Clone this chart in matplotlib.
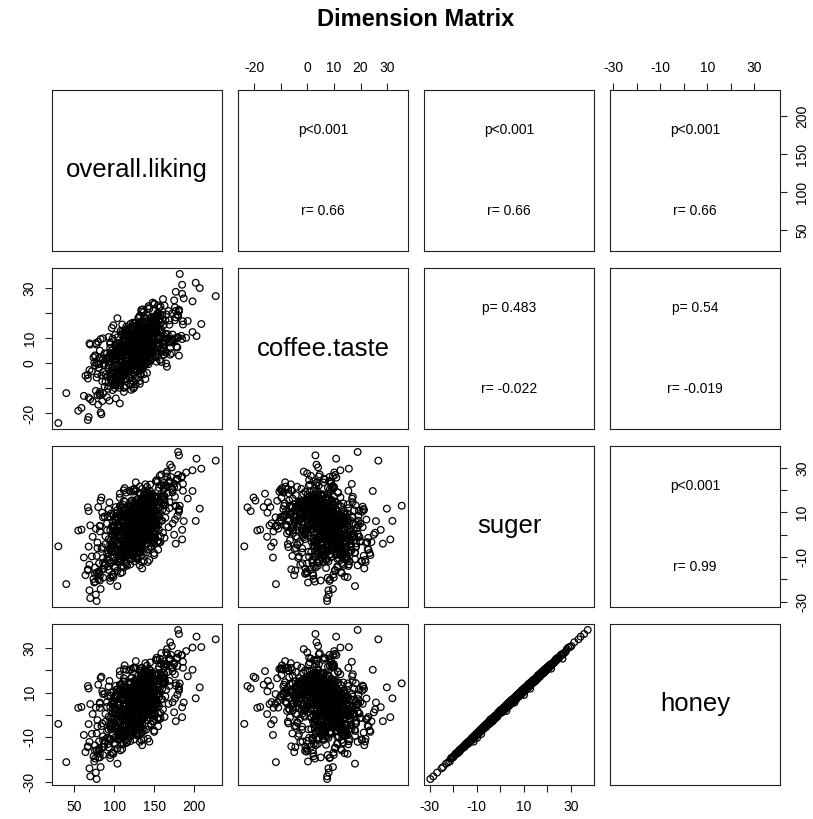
import matplotlib.pyplot as plt
import numpy as np

plt.rcParams['font.family'] = ['Liberation Sans', 'DejaVu Sans']

names = ["overall.liking", "coffee.taste", "suger", "honey"]

overall_liking = [
    136, 116, 133, 123, 92, 136, 162, 98, 149, 92,
    151, 132, 95, 142, 134, 113, 139, 157, 144, 124,
    112, 113, 134, 169, 76, 126, 131, 119, 123, 132,
    133, 111, 86, 187, 169, 68, 142, 127, 75, 192,
    100, 118, 132, 143, 165, 88, 109, 198, 123, 80,
    135, 129, 81, 141, 138, 120, 113, 134, 163, 181,
    112, 132, 112, 84, 83, 135, 150, 120, 138, 111,
    145, 123, 96, 177, 149, 93, 119, 145, 146, 82,
    114, 125, 146, 102, 170, 134, 120, 133, 86, 121,
    118, 123, 158, 59, 120, 136, 77, 95, 142, 178,
    185, 120, 145, 76, 121, 124, 96, 156, 162, 89,
    131, 82, 177, 100, 126, 165, 113, 134, 148, 150,
    94, 105, 101, 173, 98, 148, 78, 67, 123, 114,
    129, 98, 115, 141, 173, 93, 175, 107, 93, 137,
    78, 129, 125, 146, 115, 167, 73, 127, 227, 91,
    144, 93, 136, 146, 40, 131, 108, 177, 104, 171,
    138, 126, 87, 136, 176, 89, 123, 179, 72, 182,
    130, 80, 55, 142, 134, 127, 139, 81, 209, 117,
    115, 98, 173, 142, 62, 134, 176, 80, 115, 162,
    122, 121, 115, 109, 155, 69, 180, 137, 68, 118,
    137, 146, 115, 69, 132, 185, 97, 124, 138, 94,
    110, 136, 136, 166, 96, 159, 85, 120, 107, 131,
    149, 107, 100, 179, 74, 107, 129, 128, 159, 202,
    105, 102, 164, 79, 172, 129, 150, 128, 123, 138,
    104, 110, 137, 156, 84, 149, 127, 104, 124, 83,
    128, 145, 114, 114, 142, 70, 104, 159, 181, 95,
    126, 125, 140, 103, 148, 154, 88, 137, 175, 146,
    78, 139, 147, 95, 77, 146, 149, 112, 203, 104,
    149, 30, 156, 102, 98, 127, 153, 91, 207, 70,
    114, 142, 128, 88, 125, 153, 146, 79, 151, 142,
    131, 112, 135, 130, 148, 97, 143, 145, 133, 106,
    144, 114, 112, 146, 134, 129, 125, 117, 123, 147,
    132, 147, 104, 114, 130, 139, 135, 129, 129, 118,
    136, 125, 157, 112, 86, 139, 134, 151, 128, 162,
    106, 115, 143, 126, 142, 136, 113, 119, 146, 137,
    151, 124, 121, 139, 100, 114, 136, 125, 160, 109,
    119, 136, 134, 125, 136, 110, 123, 138, 140, 135,
    140, 135, 124, 140, 137, 105, 101, 150, 126, 133,
    139, 138, 141, 138, 117, 143, 118, 137, 125, 126,
    134, 124, 141, 147, 101, 109, 151, 117, 128, 164,
    125, 127, 131, 112, 150, 130, 146, 121, 152, 103,
    133, 124, 111, 153, 124, 144, 124, 102, 147, 140,
    136, 128, 141, 119, 132, 126, 137, 125, 142, 110,
    130, 142, 139, 127, 123, 113, 141, 128, 117, 163,
    128, 101, 144, 147, 132, 119, 122, 132, 155, 158,
    135, 122, 120, 147, 105, 151, 106, 159, 129, 107,
    134, 143, 121, 118, 146, 132, 122, 123, 107, 132,
    119, 139, 116, 146, 152, 116, 129, 131, 133, 108,
    112, 134, 147, 110, 143, 150, 155, 131, 113, 144,
    138, 119, 149, 106, 110, 143, 132, 132, 132, 134,
    120, 121, 141, 138, 130, 130, 133, 141, 104, 122,
    148, 124, 160, 85, 136, 125, 126, 153, 130, 164,
    127, 121, 132, 135, 98, 140, 150, 135, 105, 136,
    143, 124, 129, 139, 113, 132, 130, 133, 153, 137,
    121, 123, 120, 140, 138, 125, 117, 138, 141, 138,
    130, 143, 128, 114, 129, 139, 123, 140, 119, 137,
    135, 132, 115, 151, 153, 107, 125, 157, 129, 112,
    128, 121, 134, 116, 140, 169, 115, 135, 131, 117,
    137, 115, 136, 141, 115, 106, 142, 144, 128, 146,
    116, 147, 156, 118, 140, 133, 119, 135, 137, 120,
    132, 115, 138, 141, 154, 103, 112, 122, 186, 107,
    108, 92, 159, 107, 181, 95, 91, 162, 97, 184,
    152, 96, 108, 143, 146, 111, 150, 172, 82, 101,
    136, 136, 170, 67, 141, 181, 95, 143, 124, 144,
    108, 98, 155, 140, 115, 122, 128, 156, 122, 180,
    130, 122, 91, 153, 76, 147, 125, 132, 198, 119,
    107, 166, 120, 126, 114, 117, 163, 82, 158, 136,
    130, 133, 164, 64, 169, 128, 100, 146, 142, 99,
    143, 129, 131, 140, 101, 85, 190, 114, 140, 111,
    156, 108, 82, 144, 141, 155, 129, 141, 126, 133,
    119, 155, 125, 100, 151, 135, 121, 179, 161, 67,
    132, 109, 162, 97, 127, 162, 132, 116, 149, 141,
    135, 133, 134, 161, 98, 97, 140, 132, 143, 123,
    116, 115, 143, 152, 146, 122, 127, 106, 120, 186,
    133, 143, 140, 86, 110, 122, 175, 98, 160, 106,
    130, 138, 138, 131, 109, 127, 168, 102, 140, 166,
    141, 134, 137, 101, 139, 128, 128, 112, 135, 155,
    135, 99, 140, 121, 155, 137, 139, 129, 95, 163,
    135, 133, 130, 127, 102, 107, 154, 185, 95, 135,
    134, 104, 149, 124, 122, 156, 81, 157, 119, 131,
]

coffee_taste = [
    3.2, 11.5, -4.1, 7.8, 0.6, 14.2, 5.9, -1.7, 9.3, 2.4,
    18.6, -8.2, 6.1, 4.7, 12.9, -2.5, 8.4, 1.3, 21.7, 5.2,
    -11.4, 9.8, 3.6, 15.3, -0.9, 6.7, 10.2, -5.8, 4.1, 13.6,
    7.3, -3.4, 1.9, 25.8, 8.9, -13.7, 5.5, 11.1, 0.2, 16.8,
    2.8, 6.4, -7.1, 9.1, 19.4, 3.9, -2.2, 12.4, 7.6, -16.5,
    10.7, 4.3, -0.3, 14.9, 1.1, 8.2, -9.6, 5.7, 22.9, 3.0,
    -4.8, 13.2, 6.9, -20.3, 9.6, 2.1, 17.5, -1.2, 7.1, 11.8,
    0.9, 5.1, -6.3, 28.4, 4.6, 10.4, -3.0, 15.8, 6.2, -12.1,
    8.6, 1.6, 12.1, -8.9, 3.4, 20.5, 7.9, -0.6, 9.9, 4.8,
    -2.9, 16.1, 5.4, -17.8, 11.3, 2.7, 8.0, -5.2, 14.4, 6.6,
    31.2, -1.4, 7.2, 3.1, -10.6, 9.4, 0.4, 13.9, 5.0, -4.4,
    10.1, 2.2, 18.2, -7.7, 6.3, -0.1, 12.6, 4.0, 24.1, 8.1,
    -14.9, 5.8, 1.4, 9.0, -3.7, 15.1, 7.4, -22.6, 3.7, 11.0,
    6.0, -6.9, 13.4, 2.5, 19.9, -1.0, 8.8, 4.4, -9.1, 10.9,
    0.0, 7.7, -4.6, 16.4, 3.3, 11.6, -15.2, 6.5, 26.7, 1.8,
    9.5, -2.0, 4.9, 14.0, -11.9, 7.0, 2.9, 20.8, -5.5, 8.3,
    12.2, 3.8, -0.8, 6.8, 17.1, -7.4, 5.3, 10.0, -3.2, 35.5,
    1.0, 8.5, -18.9, 4.2, 13.0, 0.7, 9.7, -1.9, 15.6, 6.4,
    -6.0, 2.6, 11.4, 7.5, -13.0, 4.5, 22.2, -0.4, 9.2, 3.5,
    14.6, -8.5, 5.6, 1.5, 10.5, -2.7, 18.9, 6.0, -21.4, 8.7,
    3.0, 12.8, -4.0, 7.9, 0.3, 27.6, 5.0, -10.1, 11.2, 2.0,
    -1.5, 9.0, 16.6, 4.3, -6.6, 13.5, 1.2, 8.0, -16.0, 6.8,
    10.6, 5.4, -3.5, 19.2, 2.3, -9.8, 7.3, 14.7, 0.5, 32.0,
    6.2, -0.7, 11.7, -12.7, 4.0, 8.6, 23.4, -2.4, 9.6, 1.7,
    -7.9, 15.4, 3.2, 7.7, -4.9, 12.0, 0.8, 17.9, 5.8, -19.6,
    8.9, 2.4, -1.1, 13.1, 6.5, -14.3, 10.3, 4.6, 21.0, -3.9,
    0.1, 11.9, 7.0, -8.0, 16.9, 3.6, -0.2, 9.1, 25.0, 5.1,
    -5.7, 13.7, 2.0, 8.3, -11.0, 6.1, 18.4, -2.8, 10.8, 4.9,
    14.1, -23.8, 6.7, 1.3, 9.8, -6.2, 12.5, 3.9, 29.9, 7.4,
    -1.6, 4.7, 10.0, -9.3, 15.9, 0.6, 7.8, -4.3, 2.7, 19.0,
    4.5, 8.1, 1.2, 10.6, 6.3, -2.0, 12.5, 3.7, 7.9, 0.4,
    9.3, 5.0, -4.2, 13.8, 2.6, 7.1, 11.0, -0.7, 6.0, 15.2,
    1.8, 10.2, 5.7, -6.5, 8.7, 3.1, 14.0, 6.8, -1.3, 9.6,
    12.0, 2.9, 7.4, 4.1, -3.5, 11.3, 0.9, 17.6, 5.3, 8.4,
    -5.1, 6.6, 9.9, 2.2, 13.1, 4.8, -0.2, 10.8, 7.0, 3.4,
    16.4, 1.0, 5.9, 8.9, -8.3, 12.8, 3.9, 6.2, 19.1, -2.6,
    7.7, 11.7, 0.1, 4.6, 9.0, -4.8, 14.6, 2.4, 8.2, 5.5,
    10.0, -1.9, 6.9, 13.3, 3.0, 7.5, -6.9, 11.9, 1.6, 9.2,
    4.0, 15.7, 8.0, -0.9, 5.1, 12.2, 2.0, 20.4, 6.4, -3.0,
    9.7, 3.6, 11.4, 7.2, -9.9, 5.8, 13.7, 0.7, 8.5, 4.3,
    2.5, 10.4, 6.1, -4.5, 16.9, 7.8, 1.4, 9.4, 12.7, 3.2,
    -1.1, 8.8, 5.2, 14.3, 0.0, 11.1, 6.7, -7.6, 4.9, 10.3,
    13.5, 2.8, 7.6, 9.8, -2.4, 5.0, 18.0, 3.5, 8.6, -5.6,
    6.5, 12.4, 1.9, 10.9, 4.2, -0.4, 7.3, 15.0, 2.1, 9.1,
    5.6, -3.8, 11.8, 8.3, 3.3, 13.0, -1.5, 6.0, 10.1, 22.5,
    0.8, 7.0, 4.4, 12.1, -6.0, 9.5, 2.7, 16.2, 5.4, 7.9,
    11.5, 3.8, -2.9, 8.7, 6.4, 14.9, 1.1, 10.6, -8.8, 4.7,
    7.1, 9.9, 2.3, 5.7, 13.9, -0.6, 8.0, 4.0, 11.2, 6.8,
    -4.0, 12.9, 6.3, 1.5, 9.6, 17.3, 3.6, 7.4, -1.7, 10.5,
    5.0, 8.3, 14.2, -5.3, 2.9, 10.8, 6.6, 0.3, 12.3, 8.9,
    3.9, -0.3, 9.2, 6.0, 15.5, 1.7, 11.6, 4.6, -3.4, 7.6,
    13.2, 5.3, 8.1, -7.2, 10.0, 2.2, 6.9, 18.8, 0.6, 9.8,
    4.3, 11.0, -1.0, 7.7, 3.1, 14.4, 5.9, 9.0, -4.7, 12.6,
    6.2, 1.3, 10.7, 8.5, -2.2, 16.0, 3.4, 7.0, 11.9, 0.0,
    9.4, 4.8, -5.9, 12.0, 6.8, 2.6, 10.2, 5.2, 15.8, -0.8,
    7.9, 13.6, 3.0, 8.8, -3.1, 11.4, 5.6, 1.0, 9.7, 6.1,
    2.0, 10.6, 7.3, 14.8, 4.5, -1.4, 8.4, 12.5, 0.5, 5.8,
    11.1, -4.4, 6.5, 3.7, 9.3, 17.0, 2.4, 7.8, 13.1, -2.0,
    5.3, 8.6, 0.9, 12.2, 6.0, -6.4, 10.4, 4.1, 7.5, 14.1,
    3.3, 9.0, 15.3, 1.2, 7.2, 11.8, -0.1, 6.7, 4.4, 10.9,
    -3.2, 14.5, 8.8, 0.9, 19.8, -7.5, 11.3, 4.2, 16.7, -1.0,
    6.9, -10.2, 12.4, 2.1, 21.3, 7.6, -5.4, 15.2, 1.4, 10.9,
    18.1, 3.5, -8.0, 13.0, 5.9, -2.6, 23.7, 9.4, -12.8, 7.1,
    0.2, 16.0, 6.0, -6.1, 11.9, 20.6, 2.6, -0.4, 14.1, 8.5,
    12.9, -4.0, 9.7, 17.8, -9.0, 4.9, 1.7, 22.1, -1.8, 10.4,
    5.2, 13.9, -13.5, 8.0, 2.8, 18.5, -3.7, 11.6, 24.6, 6.3,
    -7.0, 9.5, 15.6, 3.0, -0.9, 12.3, 7.7, -11.4, 19.3, 4.1,
    10.8, 1.0, 17.1, -5.0, 8.3, 14.6, -2.1, 6.6, 21.9, -8.7,
    3.8, 12.0, -0.5, 16.5, 7.0, -15.1, 10.1, 2.2, 13.3, 9.0,
    17.4, -6.6, 5.0, 11.0, 0.0, 20.0, 8.1, -3.9, 14.8, 2.9,
    8.4, 19.1, -9.5, 4.5, 13.7, -1.3, 10.6, 6.2, 25.5, -4.6,
    1.3, 11.4, 7.4, -7.8, 15.9, 3.3, 18.9, -0.2, 9.8, 12.7,
    -2.3, 6.8, 21.2, 10.0, -10.7, 14.0, 4.8, 16.1, 0.7, 8.9,
    13.6, -3.5, 9.1, 2.4, 18.2, -6.9, 11.8, 5.5, -0.7, 15.4,
    7.8, 22.7, 0.5, -12.0, 12.6, 4.4, 9.9, -2.8, 17.6, 6.5,
    -5.6, 10.2, 14.3, 1.9, 7.3, -8.4, 20.8, 3.9, 12.1, -1.4,
    16.3, 5.7, -4.4, 11.2, 8.7, 0.3, 13.8, -9.8, 6.8, 19.6,
    2.7, 15.1, 9.2, -2.9, 23.0, 6.1, -6.3, 12.9, 4.0, 10.7,
    11.7, -1.6, 17.9, 7.2, -14.0, 3.6, 14.9, 9.6, -4.2, 21.4,
    0.6, 8.0, 13.1, -7.3, 5.3, 16.8, 2.0, 10.3, -0.1, 18.3,
]

suger = [
    8.4, -3.6, 12.7, 1.2, -9.8, 5.5, 17.3, -0.4, 10.1, -14.2,
    3.1, 21.6, -6.7, 9.2, -1.9, 14.8, 0.5, 26.4, -11.3, 6.9,
    15.2, -4.8, 2.6, 11.9, -17.5, 7.4, -2.3, 19.7, 4.4, -8.1,
    0.9, 13.5, -12.6, 6.1, 23.8, -5.3, 9.9, 2.0, -21.4, 16.2,
    -7.2, 4.8, 18.6, -0.8, 10.7, -13.9, 7.7, 28.9, 1.6, 12.4,
    -3.0, 8.8, -16.4, 3.5, 14.3, -9.0, 20.9, 5.2, -1.4, 35.6,
    11.0, -6.1, 2.9, 16.7, -24.3, 7.1, -0.1, 13.2, 4.9, -10.5,
    22.5, 0.3, 9.5, -4.0, 15.6, -15.8, 6.3, -2.7, 18.1, 3.8,
    -8.7, 12.1, -1.0, 7.9, 31.4, -12.0, 4.1, 10.4, -19.2, 1.7,
    6.6, -5.6, 17.9, 2.3, -10.9, 13.8, -26.8, 8.1, 0.0, 24.7,
    -2.1, 11.6, 5.9, -14.7, 19.3, 3.3, -7.6, 9.6, 15.9, -0.7,
    4.0, -18.3, 13.1, 0.6, 8.6, 27.5, -9.4, 6.4, -3.3, 10.9,
    14.5, -11.7, 2.1, 20.1, -4.5, 7.0, -29.7, 12.3, 3.0, -6.4,
    9.1, 1.4, -13.1, 16.0, 5.0, -2.0, 22.9, -8.4, 11.4, 0.2,
    -16.9, 7.6, 13.9, -5.0, 3.7, 18.8, -0.9, 10.0, 33.2, -11.1,
    5.6, -7.9, 15.0, 2.5, -22.1, 8.3, -3.8, 12.6, 0.8, 25.9,
    -1.3, 10.3, -15.2, 6.0, 17.0, -4.2, 3.6, 21.4, -9.7, 13.0,
    7.3, -20.0, 1.9, 11.2, -6.9, 15.5, 4.6, -12.8, 29.6, -0.3,
    9.8, -3.1, 19.0, 2.8, -10.2, 13.6, 6.8, -17.3, 0.1, 23.2,
    -5.9, 14.1, 3.4, -1.6, 8.0, -13.4, 37.1, 5.8, 10.6, -8.8,
    16.4, -0.5, 7.8, -24.9, 12.0, 2.2, -4.7, 20.3, 5.1, -11.5,
    1.5, 9.3, -7.0, 26.1, -2.5, 14.0, -15.6, 4.3, 18.4, -0.2,
    11.8, -9.2, 3.9, 8.5, -19.8, 16.6, 0.4, -5.4, 22.0, 6.2,
    -12.3, 2.4, 13.3, -3.5, 30.2, 7.5, -8.2, 10.2, -1.8, 17.7,
    4.5, -14.0, 9.0, 21.1, -6.3, 1.0, 12.9, -23.0, 6.7, 15.3,
    -2.9, 19.5, 0.7, -10.0, 8.7, 4.2, -16.1, 27.0, 11.5, -4.4,
    14.7, -7.4, 3.2, 10.8, -1.2, 23.6, -12.9, 6.5, 0.0, 18.2,
    -9.5, 5.3, 16.9, -20.7, 2.7, 12.2, -3.9, 9.4, 34.1, -0.6,
    7.2, -5.2, 13.7, 1.1, -17.8, 20.0, 4.7, -8.6, 11.7, -28.4,
    2.6, 15.8, -2.2, 8.2, -11.9, 24.5, 6.0, -6.0, 17.2, 0.4,
    5.2, -2.8, 9.6, 1.9, 12.4, -6.1, 7.0, 14.9, -0.5, 3.8,
    10.8, -4.3, 6.5, 0.2, 16.1, 2.7, -8.9, 8.3, 4.6, -1.6,
    13.2, 6.1, -3.4, 9.1, 1.0, 18.5, -5.7, 4.9, 11.6, 0.6,
    -2.2, 7.8, 15.3, 3.1, -10.4, 5.7, 12.0, -0.9, 8.8, 20.4,
    4.3, -7.0, 10.1, 6.9, -1.8, 13.8, 2.4, -4.6, 9.3, 16.7,
    1.4, 11.3, -3.9, 7.5, 4.0, -12.6, 14.2, 0.1, 6.3, 9.7,
    -5.3, 3.6, 12.8, -0.2, 8.0, 5.5, -9.6, 17.4, 2.0, 10.9,
    7.1, 15.0, -2.6, 4.4, 11.0, -6.8, 1.6, 9.0, 13.4, -0.8,
    10.2, 0.9, 6.0, 19.2, -4.1, 3.3, 8.6, -11.7, 5.0, 12.5,
    -1.2, 8.1, 2.8, 14.1, 6.6, -7.5, 10.5, 4.2, -3.0, 22.1,
    9.4, -5.0, 3.9, 11.8, 0.5, 7.4, 16.0, -2.4, 5.8, -9.0,
    13.6, 2.2, -6.4, 8.9, 4.8, 11.1, -1.0, 6.8, 18.0, 1.3,
    -3.6, 10.0, 5.3, -0.4, 14.6, 3.0, -8.0, 9.7, 7.2, 12.2,
    0.7, 6.2, 13.0, -4.9, 8.4, 2.5, 10.7, -10.8, 4.5, 15.6,
    7.9, -1.5, 3.4, 12.6, 5.9, -6.2, 9.2, 1.8, 17.0, -3.3,
    11.9, 4.1, -0.6, 8.2, 2.9, 14.4, -5.1, 6.4, 10.3, -12.0,
    3.2, 13.1, 7.7, -2.0, 9.9, 0.0, 5.4, -7.3, 12.9, 6.9,
    -4.5, 8.7, 1.1, 15.9, 4.7, 10.4, -1.9, 7.3, 3.5, -9.4,
    6.0, 2.1, 11.5, -3.1, 9.0, 5.1, 19.8, -0.3, 8.1, 4.0,
    12.3, -6.6, 7.6, 3.7, -2.7, 10.6, 1.5, 14.0, -4.0, 6.7,
    -0.9, 9.8, 4.4, 13.3, -8.2, 6.1, 2.6, 11.2, 7.0, -3.8,
    8.5, 0.4, 16.5, -5.5, 5.6, 12.0, -1.3, 3.0, 9.6, 21.0,
    2.9, -3.2, 10.9, 6.5, -9.9, 4.0, 13.9, 0.8, 8.0, -1.7,
    14.8, 5.0, -2.3, 9.5, 1.9, -7.8, 11.4, 4.7, 6.2, 17.9,
    -6.0, 7.4, 12.7, 0.3, 10.0, 3.6, -4.4, 8.9, 2.2, 15.1,
    5.7, -0.1, 9.3, -10.0, 13.5, 6.6, 1.0, 11.8, -2.9, 7.6,
    10.6, 3.9, -7.1, 6.8, 16.3, -1.1, 4.2, 12.8, 8.3, -4.8,
    1.7, 11.0, 5.5, -3.5, 8.6, 14.6, 0.2, 7.1, -6.9, 10.2,
    7.4, -2.1, 12.1, 4.6, -5.8, 9.1, 3.2, 18.7, 0.9, 6.0,
    -1.4, 13.7, 6.3, 2.5, 10.8, -4.2, 8.5, 4.9, 15.4, -8.5,
    14.2, -8.5, 3.3, 19.1, -2.9, 9.7, -14.6, 6.4, 22.8, 0.2,
    -11.0, 7.9, 16.8, -4.7, 11.1, -19.3, 2.0, 13.6, -7.7, 25.6,
    4.6, -12.4, 9.0, -1.2, 17.5, 6.9, -9.1, 20.7, 1.5, -5.9,
    12.8, -0.4, 23.4, -15.5, 5.3, 10.3, -6.0, 15.7, -2.3, 8.1,
    -17.2, 3.9, 11.9, -8.0, 18.9, 0.6, 14.1, -3.7, 7.3, 26.8,
    9.0, -10.6, 5.1, 16.0, -21.0, 2.9, 12.5, -5.0, 19.6, -1.5,
    6.1, 21.9, -13.3, 10.8, 1.2, -7.3, 17.3, 4.0, -0.8, 13.9,
    -3.4, 15.2, 7.6, -18.1, 24.1, -9.8, 3.1, 11.4, -12.2, 8.8,
    18.0, -5.4, 12.2, 0.0, -14.9, 9.9, 27.9, -1.7, 5.7, -9.9,
    2.3, 13.0, -20.5, 8.2, 16.5, -3.0, 6.8, 21.5, -10.1, 11.8,
    -6.8, 4.4, 19.4, -11.8, 9.4, 14.8, -2.6, 25.1, 0.9, -16.0,
    10.1, -8.9, 15.9, 3.6, -4.2, 22.2, -13.7, 7.0, 12.9, -0.3,
    20.6, 1.8, -9.4, 13.3, 5.9, -18.7, 8.5, -2.0, 17.0, 3.0,
    -13.9, 11.6, 6.2, 24.0, -5.6, 15.4, 0.0, -10.5, 9.3, 19.7,
    1.1, -6.5, 14.6, 7.8, -16.8, 4.7, 21.3, -3.2, 11.0, -9.6,
    16.2, 8.4, -2.7, 12.0, -11.4, 23.5, 3.4, -7.9, 6.6, 28.3,
    -4.0, 10.6, 17.8, -14.2, 2.5, 13.2, -8.3, 19.9, 5.2, -1.0,
    8.6, -19.0, 4.0, 15.0, -6.7, 10.0, 22.6, 0.6, -12.7, 14.4,
    -2.4, 18.3, -10.9, 6.3, 12.4, -4.8, 9.6, 26.2, 2.1, -15.1,
    11.3, -7.0, 4.9, 20.4, -1.9, 8.0, -17.4, 14.9, 3.7, -5.2,
]

honey = [
    9.1, -2.4, 11.8, 2.9, -10.3, 6.2, 18.9, 0.7, 9.0, -13.1,
    4.6, 20.8, -5.2, 10.4, -0.6, 15.1, 1.9, 25.3, -12.0, 7.5,
    16.5, -3.9, 1.8, 13.0, -16.2, 8.8, -1.4, 20.2, 5.9, -8.6,
    1.3, 14.9, -11.4, 5.6, 25.0, -4.1, 10.7, 3.5, -20.9, 17.4,
    -6.0, 5.3, 19.9, 0.6, 11.3, -13.0, 9.1, 30.3, 2.2, 13.6,
    -2.2, 9.5, -15.1, 4.8, 14.9, -8.1, 22.3, 6.5, -0.9, 36.4,
    12.3, -5.5, 3.8, 17.2, -23.4, 8.5, 1.0, 14.4, 5.1, -9.7,
    23.6, 1.6, 10.0, -2.8, 16.9, -14.6, 7.4, -1.5, 18.8, 5.0,
    -7.5, 12.6, 0.2, 9.3, 32.7, -11.3, 5.5, 11.1, -18.0, 2.4,
    7.9, -4.7, 18.5, 3.6, -9.8, 15.0, -25.9, 8.8, 1.3, 25.4,
    -1.0, 12.2, 7.3, -13.6, 20.6, 4.0, -6.5, 10.9, 16.4, 0.5,
    5.2, -17.4, 14.3, 1.8, 9.0, 28.1, -8.0, 7.7, -2.9, 12.1,
    15.3, -10.6, 3.4, 21.5, -3.6, 7.8, -28.8, 13.0, 4.2, -5.3,
    10.2, 2.8, -12.5, 17.1, 5.7, -0.8, 23.5, -7.2, 12.8, 1.0,
    -15.8, 8.2, 15.2, -4.2, 4.9, 19.3, 0.4, 11.4, 34.0, -10.4,
    6.9, -6.6, 15.8, 3.1, -21.2, 9.7, -2.6, 13.2, 2.1, 27.0,
    -0.1, 11.0, -14.4, 7.2, 18.3, -3.0, 4.1, 22.0, -8.5, 14.2,
    8.0, -19.1, 3.2, 12.5, -5.7, 16.1, 6.0, -11.9, 30.5, 0.9,
    11.1, -2.0, 19.6, 4.0, -9.0, 14.8, 7.4, -16.5, 1.5, 24.1,
    -4.6, 14.7, 4.8, -0.9, 9.2, -12.1, 38.2, 6.3, 11.9, -7.9,
    17.6, 0.8, 8.3, -24.0, 12.9, 3.5, -3.3, 21.0, 6.4, -10.8,
    2.7, 10.0, -6.2, 27.3, -1.1, 14.6, -14.3, 5.0, 19.7, 1.1,
    12.4, -8.0, 5.3, 9.1, -18.6, 17.9, 1.2, -4.6, 22.8, 7.5,
    -11.2, 3.0, 14.6, -2.3, 31.0, 8.9, -7.0, 10.8, -0.6, 18.5,
    5.8, -13.2, 10.3, 21.7, -5.0, 2.3, 13.5, -21.9, 7.2, 16.6,
    -1.6, 20.1, 2.0, -9.1, 9.9, 4.9, -15.0, 27.8, 12.7, -3.2,
    15.5, -6.1, 4.5, 11.4, 0.1, 24.8, -11.6, 7.0, 1.2, 19.0,
    -8.3, 6.7, 17.5, -19.4, 3.3, 13.4, -2.7, 10.6, 35.2, 0.7,
    8.4, -4.0, 14.3, 2.5, -16.9, 21.2, 5.2, -7.3, 12.4, -27.6,
    3.9, 16.3, -0.8, 9.6, -11.0, 25.7, 7.3, -5.1, 18.0, 1.6,
    6.9, -1.0, 10.2, 3.8, 13.1, -5.3, 8.9, 15.4, 1.6, 4.2,
    11.5, -2.1, 7.0, 2.3, 17.8, 3.4, -7.2, 9.9, 5.1, -0.4,
    14.8, 6.5, -1.6, 10.9, 1.8, 19.0, -4.0, 6.8, 12.1, 2.5,
    -0.5, 9.6, 15.9, 4.9, -9.6, 6.3, 13.9, 0.4, 9.2, 22.0,
    5.0, -5.3, 11.8, 7.4, -0.1, 14.5, 4.2, -3.8, 11.0, 17.2,
    3.2, 12.0, -2.2, 8.1, 5.9, -11.3, 15.0, 1.9, 7.1, 11.5,
    -4.5, 5.4, 13.4, 1.5, 8.7, 7.2, -8.0, 18.1, 3.6, 11.6,
    8.9, 15.8, -1.0, 5.1, 12.7, -5.1, 2.4, 10.8, 14.0, 1.0,
    10.9, 2.7, 7.8, 20.0, -2.4, 4.0, 10.3, -10.9, 6.8, 13.2,
    0.6, 8.9, 4.5, 14.7, 8.3, -6.6, 11.2, 6.0, -1.3, 22.8,
    11.1, -4.1, 5.6, 12.5, 2.2, 8.0, 17.7, -0.7, 6.4, -7.4,
    14.3, 4.0, -4.7, 9.5, 6.5, 11.8, 0.8, 8.5, 18.6, 3.1,
    -1.9, 10.7, 7.0, 1.3, 15.2, 4.8, -7.2, 11.4, 7.8, 13.9,
    2.4, 7.0, 14.7, -3.2, 9.1, 4.2, 11.3, -9.1, 6.3, 16.2,
    9.6, 0.2, 4.1, 14.3, 6.6, -4.5, 10.9, 2.5, 18.7, -1.6,
    12.6, 5.8, 1.1, 8.9, 4.6, 15.1, -3.4, 7.1, 12.0, -10.3,
    4.9, 13.8, 9.4, -0.3, 10.6, 1.7, 6.1, -5.6, 13.6, 8.6,
    -3.8, 10.4, 2.8, 16.6, 6.4, 11.1, -0.2, 8.0, 5.2, -8.7,
    7.7, 2.8, 13.2, -1.4, 9.7, 6.8, 20.5, 1.4, 8.8, 5.7,
    13.0, -4.9, 8.3, 5.4, -2.0, 12.3, 2.2, 15.7, -2.3, 7.4,
    0.8, 10.5, 6.1, 14.0, -6.5, 6.8, 4.3, 11.9, 8.7, -3.1,
    9.2, 2.1, 17.2, -3.8, 6.3, 13.7, -0.6, 4.7, 10.3, 21.7,
    4.6, -2.5, 11.6, 8.2, -8.2, 4.7, 15.6, 1.5, 9.7, -1.0,
    15.5, 6.7, -1.6, 11.2, 2.6, -6.1, 12.1, 6.4, 6.9, 19.6,
    -4.3, 8.1, 14.4, 1.0, 11.7, 4.3, -2.7, 9.6, 3.9, 15.8,
    6.4, 1.6, 10.0, -8.3, 14.2, 8.3, 1.7, 13.5, -2.2, 9.3,
    12.3, 4.6, -5.4, 7.5, 18.0, -0.4, 5.9, 13.5, 10.0, -4.1,
    3.4, 11.7, 7.2, -2.8, 10.3, 15.3, 1.9, 7.8, -5.2, 10.9,
    8.1, -0.4, 12.8, 6.3, -5.1, 10.8, 3.9, 20.4, 1.6, 7.7,
    0.3, 14.4, 8.0, 3.2, 12.5, -3.5, 10.2, 5.6, 16.1, -6.8,
    15.0, -7.1, 4.9, 19.8, -1.4, 11.2, -13.0, 7.0, 23.9, 1.9,
    -9.6, 8.4, 18.3, -3.1, 11.7, -18.0, 3.6, 14.2, -6.3, 26.9,
    6.2, -11.0, 9.6, 0.5, 18.9, 7.4, -7.6, 21.3, 3.2, -5.1,
    13.5, 1.2, 24.8, -14.1, 6.9, 10.9, -4.4, 17.1, -1.6, 9.7,
    -15.9, 5.4, 12.5, -6.6, 20.3, 2.3, 14.8, -2.0, 8.9, 27.5,
    10.6, -9.1, 5.8, 17.6, -19.6, 4.5, 13.1, -3.5, 20.3, 0.1,
    7.6, 22.6, -11.8, 12.3, 1.9, -5.8, 18.0, 5.6, 0.8, 14.6,
    -1.9, 16.6, 8.3, -16.7, 25.5, -8.3, 4.6, 12.1, -10.7, 10.3,
    18.7, -3.9, 13.7, 1.6, -13.4, 10.6, 28.7, -0.1, 7.3, -8.4,
    3.9, 13.7, -19.1, 9.7, 17.2, -1.4, 8.4, 22.2, -8.6, 13.3,
    -5.3, 5.1, 20.9, -10.3, 10.1, 16.3, -1.0, 25.8, 2.5, -14.5,
    11.6, -7.4, 16.6, 5.2, -2.6, 22.9, -12.1, 8.6, 13.6, 1.3,
    21.3, 3.4, -7.9, 14.9, 6.6, -17.2, 10.1, -0.4, 17.7, 4.6,
    -12.4, 12.3, 7.8, 24.7, -4.0, 16.9, 1.6, -9.0, 10.0, 21.2,
    2.7, -4.9, 15.3, 9.4, -15.3, 5.4, 22.8, -1.6, 11.7, -8.1,
    17.7, 9.1, -1.1, 12.7, -9.9, 24.2, 5.0, -6.3, 7.3, 29.6,
    -2.4, 11.3, 19.3, -12.7, 4.1, 13.9, -6.7, 20.6, 6.8, 0.6,
    10.2, -17.5, 4.7, 16.5, -5.1, 10.7, 23.3, 2.2, -11.2, 15.1,
    -0.8, 19.0, -9.3, 7.9, 13.1, -3.2, 11.2, 26.9, 3.7, -13.6,
    12.0, -5.4, 6.5, 21.1, -0.3, 9.6, -15.8, 15.6, 5.3, -3.6,
]

# upper-triangle statistics, one entry per (row, col) pair
pairs = [(0, 1), (0, 2), (0, 3), (1, 2), (1, 3), (2, 3)]
p_labels = ["p<0.001", "p<0.001", "p<0.001", "p= 0.483", "p= 0.54", "p<0.001"]
r_labels = ["r= 0.66", "r= 0.66", "r= 0.66", "r= -0.022", "r= -0.019", "r= 0.99"]

# outer axis ticks
liking_ticks = [50, 100, 150, 200]
liking_labels = ["50", "100", "150", "200"]
coffee_ticks = [-20, -10, 0, 10, 20, 30]
coffee_top_labels = ["-20", "", "0", "10", "20", "30"]
coffee_left_labels = ["-20", "", "0", "10", "", "30"]
sweet_ticks = [-30, -20, -10, 0, 10, 20, 30]
sweet_labels = ["-30", "", "-10", "", "10", "", "30"]

data = [overall_liking, coffee_taste, suger, honey]
var_ticks = [liking_ticks, coffee_ticks, sweet_ticks, sweet_ticks]
x_tick_labels = [liking_labels, coffee_top_labels, sweet_labels, sweet_labels]
y_tick_labels = [liking_labels, coffee_left_labels, sweet_labels, sweet_labels]


def padded(v):
    lo, hi = min(v), max(v)
    d = 0.04 * (hi - lo)
    return lo - d, hi + d


lims = [padded(v) for v in data]

W, H = 813, 819
lefts = [52, 238, 424, 610]
tops = [90, 268, 446, 624]
pw, ph = 170, 161

fig = plt.figure(figsize=(W / 100, H / 100), dpi=100)
fig.text(416 / W, 1 - 20 / H, "Dimension Matrix", ha='center', va='center',
         fontsize=17, fontweight='bold')

n = len(names)
for i in range(n):
    for j in range(n):
        ax = fig.add_axes([lefts[j] / W, 1 - (tops[i] + ph) / H, pw / W, ph / H])
        ax.set_xlim(lims[j])
        ax.set_ylim(lims[i])
        ax.set_xticks([])
        ax.set_yticks([])
        for sp in ax.spines.values():
            sp.set_linewidth(0.8)
            sp.set_color('#222222')

        if i == j:
            ax.text(0.5, 0.5, names[i], transform=ax.transAxes,
                    ha='center', va='center', fontsize=18.5)
        elif i > j:
            ax.scatter(data[j], data[i], s=23, facecolors='none',
                       edgecolors='black', linewidths=0.9)
        else:
            k = pairs.index((i, j))
            ax.text(0.5, 0.75, p_labels[k], transform=ax.transAxes,
                    ha='center', va='center', fontsize=10)
            ax.text(0.5, 0.25, r_labels[k], transform=ax.transAxes,
                    ha='center', va='center', fontsize=10)

        tp = dict(direction='out', length=5, width=0.8, labelsize=10, pad=6,
                  color='#222222')
        # axes alternate around the outside, as in R's pairs()
        if i == 0 and j % 2 == 1:
            ax.xaxis.tick_top()
            ax.set_xticks(var_ticks[j])
            ax.set_xticklabels(x_tick_labels[j])
            ax.tick_params(axis='x', **tp)
        if i == n - 1 and j % 2 == 0:
            ax.set_xticks(var_ticks[j])
            ax.set_xticklabels(x_tick_labels[j])
            ax.tick_params(axis='x', **tp)
        if j == 0 and i % 2 == 1:
            ax.set_yticks(var_ticks[i])
            ax.set_yticklabels(y_tick_labels[i], rotation=90, va='center')
            ax.tick_params(axis='y', **tp)
        if j == n - 1 and i % 2 == 0:
            ax.yaxis.tick_right()
            ax.set_yticks(var_ticks[i])
            ax.set_yticklabels(y_tick_labels[i], rotation=90, va='center')
            ax.tick_params(axis='y', **tp)

fig.savefig("out.png", dpi=100)
